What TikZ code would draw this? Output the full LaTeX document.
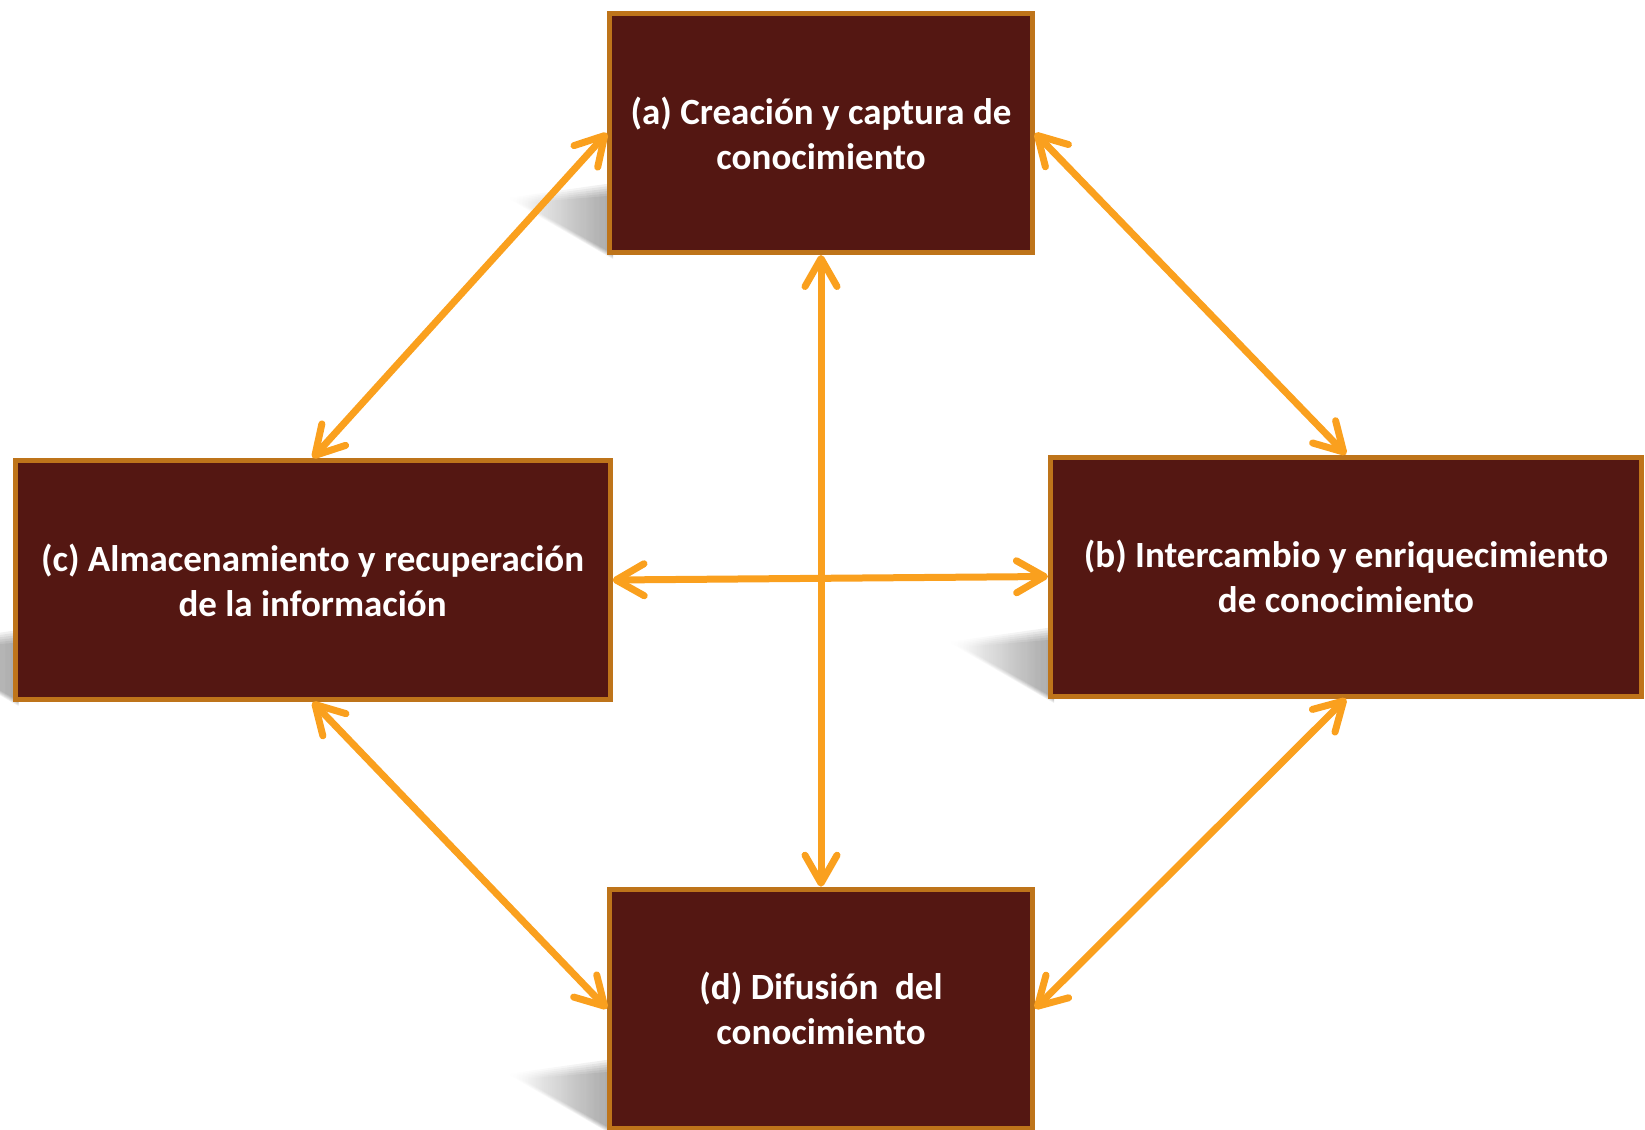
\documentclass[tikz,border=0pt]{standalone}
\usepackage{fontspec}
\setmainfont{Carlito}
\usetikzlibrary{arrows.meta,calc,fadings}
\definecolor{boxfill}{RGB}{84,23,18}
\definecolor{boxline}{RGB}{190,116,26}
\definecolor{arrowc}{RGB}{250,160,30}
\tikzfading[name=shfade, left color=transparent!100, middle color=transparent!35, right color=transparent!0]
\tikzset{
  stage/.style={draw=boxline, line width=5pt, fill=boxfill, minimum width=#1,
    minimum height=239pt, inner sep=0pt, text=white,
    font=\fontsize{37}{45}\selectfont\bfseries, align=center},
  barb/.tip={Straight Barb[length=28pt,width=32pt,line cap=round,line join=round]},
  link/.style={draw=arrowc, line width=7pt, barb-barb},
  shadowlayer/.style={fill=black, opacity=0.065, path fading=shfade}
}
\begin{document}
\begin{tikzpicture}[x=1pt,y=-1pt]
\useasboundingbox (0,0) rectangle (1645,1129);
% soft perspective shadows behind the boxes
\foreach \bx/\by in {607/255, 12.6/702, 1048/699, 607/1131} {
  \foreach \k in {0,...,5} {
    \fill[shadowlayer] (\bx-100+3*\k,\by-57+\k) -- (\bx+6,\by-72+2.5*\k)
      -- (\bx+6,\by+4-\k) -- cycle;
  }
}
% boxes
\node[stage=423pt] (a) at (821,133) {(a) Creación y captura de\\conocimiento};
\node[stage=595pt] (c) at (312.6,580) {(c) Almacenamiento y recuperación\\de la información};
\node[stage=591pt] (b) at (1346,576.5) {(b) Intercambio y enriquecimiento\\de conocimiento};
\node[stage=423pt] (d) at (821,1008.7) {(d) Difusión\ \ del\\conocimiento};
% connectors
\draw[link] (a.west) -- (c.north);
\draw[link] (a.east) -- (b.north);
\draw[link] (a.south) -- (d.north);
\draw[link] (c.east) -- (b.west);
\draw[link] (c.south) -- (d.west);
\draw[link] (b.south) -- (d.east);
\end{tikzpicture}
\end{document}
